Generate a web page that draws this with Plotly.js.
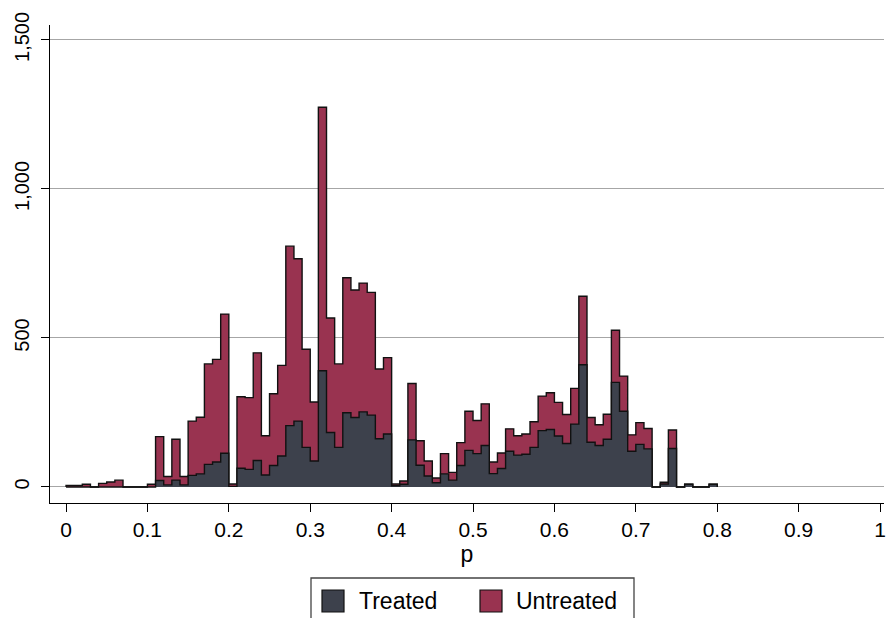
<!DOCTYPE html>
<html>
<head>
<meta charset="utf-8">
<script src="https://cdn.plot.ly/plotly-3.0.1.min.js"></script>
<style>
  html, body { margin: 0; padding: 0; background: #ffffff; }
  #chart { width: 886px; height: 618px; }
</style>
</head>
<body>
<div id="chart"></div>
<script>
// Histogram of the propensity score p, bins of width 0.01 starting at 0
const binStart = 0;
const binWidth = 0.01;

// Bar heights per bin (untreated drawn behind, treated in front)
const untreated = [
  5, 5, 9, 0, 12, 17, 23, 0, 0, 0,
  9, 169, 35, 160, 35, 221, 234, 413, 428, 580,
  10, 303, 300, 450, 172, 313, 408, 808, 766, 462,
  285, 1274, 567, 413, 702, 661, 684, 653, 396, 434,
  10, 20, 347, 155, 87, 30, 112, 49, 149, 254,
  223, 279, 84, 114, 195, 172, 178, 219, 305, 316,
  284, 243, 331, 640, 233, 209, 244, 526, 372, 175,
  216, 196, 0, 16, 191, 0, 9, 0, 0, 9
];
const treated = [
  0, 0, 0, 0, 0, 0, 0, 0, 0, 0,
  0, 22, 7, 23, 7, 39, 44, 76, 84, 113,
  2, 63, 59, 89, 40, 72, 104, 206, 221, 133,
  87, 390, 183, 133, 249, 233, 252, 241, 162, 178,
  4, 9, 158, 73, 37, 14, 44, 23, 72, 123,
  112, 139, 45, 62, 120, 107, 110, 133, 189, 193,
  171, 146, 211, 410, 150, 139, 160, 351, 254, 120,
  143, 128, 0, 10, 129, 0, 9, 0, 0, 9
];

const xTickVals = [0, 0.1, 0.2, 0.3, 0.4, 0.5, 0.6, 0.7, 0.8, 0.9, 1];
const xTickText = ["0", "0.1", "0.2", "0.3", "0.4", "0.5", "0.6", "0.7", "0.8", "0.9", "1"];
const yTickVals = [0, 500, 1000, 1500];
const seriesNames = ["Treated", "Untreated"];

const colTreated = "#3d414c";
const colUntreated = "#993350";
const outline = "#111111";

// Build a filled stair-step outline of a histogram from its bin counts
function histTrace(name, counts, color) {
  const x = [binStart];
  const y = [0];
  counts.forEach(function (c, i) {
    x.push(binStart + i * binWidth);
    y.push(c);
  });
  x.push(binStart + counts.length * binWidth);
  y.push(0);
  return {
    type: "scatter",
    mode: "lines",
    name: name,
    x: x,
    y: y,
    line: { shape: "hv", color: outline, width: 1.4 },
    fill: "tozeroy",
    fillcolor: color,
    showlegend: false,
    hoverinfo: "skip"
  };
}

const W = 886, H = 618;
const M = { l: 50, r: 2, t: 25, b: 115 };
const pw = W - M.l - M.r;
const ph = H - M.t - M.b;
const px2x = function (px) { return (px - M.l) / pw; };
const py2y = function (py) { return (H - M.b - py) / ph; };

const font = "Liberation Sans, Arial, Helvetica, sans-serif";

// Legend drawn as a boxed key below the axis title
const shapes = [
  { type: "rect", xref: "paper", yref: "paper",
    x0: px2x(311), x1: px2x(634), y0: py2y(578), y1: py2y(640),
    line: { color: "#444444", width: 1.3 }, fillcolor: "rgba(0,0,0,0)" },
  { type: "rect", xref: "paper", yref: "paper",
    x0: px2x(322), x1: px2x(344), y0: py2y(590), y1: py2y(612),
    line: { color: outline, width: 1.2 }, fillcolor: colTreated },
  { type: "rect", xref: "paper", yref: "paper",
    x0: px2x(480), x1: px2x(502), y0: py2y(590), y1: py2y(612),
    line: { color: outline, width: 1.2 }, fillcolor: colUntreated }
];
const annotations = [
  { xref: "paper", yref: "paper", x: px2x(357), y: py2y(601),
    xanchor: "left", yanchor: "middle", showarrow: false,
    text: seriesNames[0], font: { family: font, size: 23, color: "#000" } },
  { xref: "paper", yref: "paper", x: px2x(514), y: py2y(601),
    xanchor: "left", yanchor: "middle", showarrow: false,
    text: seriesNames[1], font: { family: font, size: 23, color: "#000" } }
];

const data = [
  histTrace(seriesNames[1], untreated, colUntreated),
  histTrace(seriesNames[0], treated, colTreated)
];

const layout = {
  width: W,
  height: H,
  margin: M,
  paper_bgcolor: "#ffffff",
  plot_bgcolor: "#ffffff",
  showlegend: false,
  font: { family: font, size: 20, color: "#000" },
  xaxis: {
    range: [-0.0197, 1.0049],
    tickvals: xTickVals,
    ticktext: xTickText,
    ticks: "outside",
    ticklen: 8,
    tickwidth: 1,
    tickcolor: "#000",
    showline: true,
    linecolor: "#000",
    linewidth: 1,
    showgrid: false,
    zeroline: false,
    tickfont: { family: font, size: 21, color: "#000" },
    title: { text: "p", font: { family: font, size: 23, color: "#000" }, standoff: 4 }
  },
  yaxis: {
    range: [-53.7, 1550],
    tickvals: yTickVals,
    tickformat: ",d",
    tickangle: -90,
    ticks: "outside",
    ticklen: 8,
    tickwidth: 1,
    tickcolor: "#000",
    showline: true,
    linecolor: "#000",
    linewidth: 1,
    showgrid: true,
    gridcolor: "#a6a6a6",
    gridwidth: 1,
    zeroline: false,
    ticklabelstandoff: 4,
    tickfont: { family: font, size: 20, color: "#000" }
  },
  shapes: shapes,
  annotations: annotations
};

Plotly.newPlot("chart", data, layout, { displayModeBar: false, staticPlot: true });
</script>
</body>
</html>
